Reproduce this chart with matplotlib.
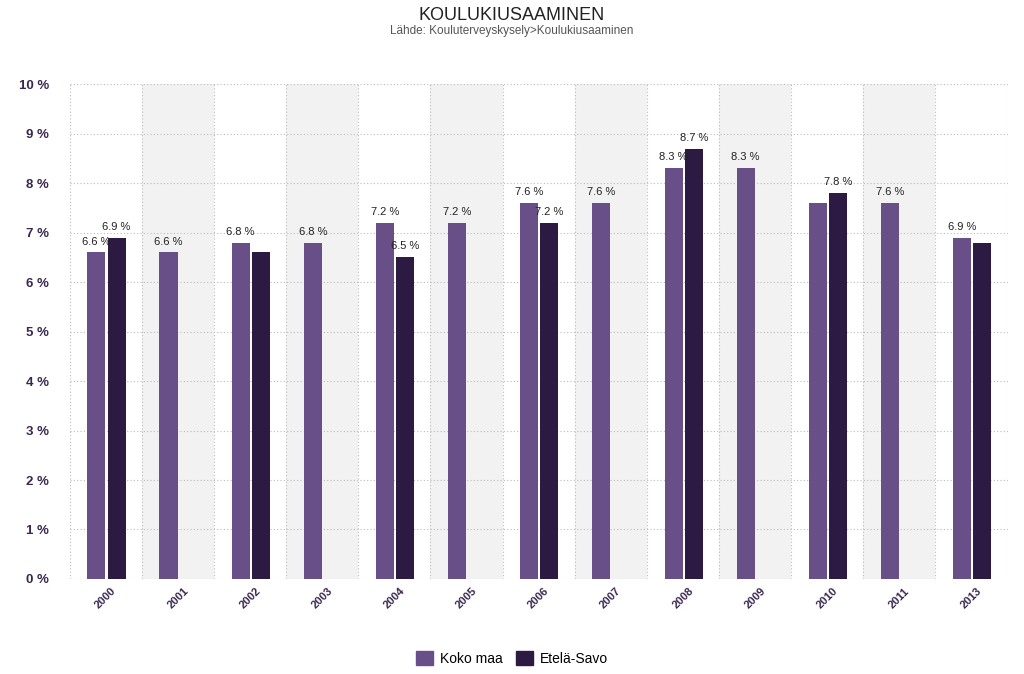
import numpy as np
import matplotlib
matplotlib.use("Agg")
from matplotlib import pyplot as plt
from matplotlib.patches import Patch
from matplotlib.transforms import ScaledTranslation

years = ["2000", "2001", "2002", "2003", "2004", "2005", "2006",
         "2007", "2008", "2009", "2010", "2011", "2013"]
koko_maa = [6.6, 6.6, 6.8, 6.8, 7.2, 7.2, 7.6, 7.6, 8.3, 8.3, 7.6, 7.6, 6.9]
etela_savo = [6.9, None, 6.6, None, 6.5, None, 7.2, None, 8.7, None, 7.8, None, 6.8]
# which value labels are shown in the original
koko_maa_labels = [True, True, True, True, True, True, True, True, True, True, False, True, True]
etela_savo_labels = [True, False, False, False, True, False, True, False, True, False, True, False, False]

c_koko = "#684f87"
c_savo = "#2d1a43"
txt = "#3a2650"

plt.rcParams["font.family"] = ["Liberation Sans", "DejaVu Sans"]

fig = plt.figure(figsize=(10.24, 6.74), dpi=100)
ax = fig.add_axes([0.068, 0.141, 0.916, 0.734])

x = np.arange(len(years))
w = 0.25

# alternating background bands
for i in x:
    if i % 2 == 1:
        ax.axvspan(i - 0.5, i + 0.5, color="#f2f2f2", zorder=0, lw=0)

for i, (k, s) in enumerate(zip(koko_maa, etela_savo)):
    ax.bar(i - 0.13, k, w, color=c_koko, zorder=3)
    if koko_maa_labels[i]:
        ax.text(i - 0.13, k + 0.12, f"{k} %", ha="center", va="bottom", fontsize=8, color="#222222", zorder=4)
    if s is not None:
        ax.bar(i + 0.15, s, w, color=c_savo, zorder=3)
        if etela_savo_labels[i]:
            ax.text(i + 0.15, s + 0.12, f"{s} %", ha="center", va="bottom", fontsize=8, color="#222222", zorder=4)

ax.set_xlim(-0.5, len(years) - 0.5)
ax.set_ylim(0, 10)
ax.set_yticks(range(0, 11))
ax.set_yticklabels([f"{v} %" for v in range(0, 11)], fontsize=9.5, fontweight="bold", color=txt)
ax.set_xticks(x)
ax.set_xticklabels(years, rotation=45, ha="center", va="top",
                   fontsize=8, fontweight="bold", color=txt)
off = ScaledTranslation(5 / 100, 0, fig.dpi_scale_trans)
for lab in ax.get_xticklabels():
    lab.set_transform(lab.get_transform() + off)
ax.tick_params(length=0, pad=5)
ax.tick_params(axis="y", pad=15)

for v in range(0, 11):
    ax.axhline(v, color="#bbbbbb", ls=(0, (1, 2)), lw=0.8, zorder=1)
for b in np.arange(-0.5, len(years), 1):
    ax.axvline(b, color="#bbbbbb", ls=(0, (1, 2)), lw=0.8, zorder=1)
for sp in ax.spines.values():
    sp.set_visible(False)

fig.text(0.5, 0.977, "KOULUKIUSAAMINEN", ha="center", va="center", fontsize=13, color="#222222")
fig.text(0.5, 0.954, "Lähde: Kouluterveyskysely>Koulukiusaaminen", ha="center", va="center", fontsize=8.5, color="#555555")

handles = [Patch(color=c_koko, label="Koko maa"), Patch(color=c_savo, label="Etelä-Savo")]
fig.legend(handles=handles, loc="center", bbox_to_anchor=(0.5, 0.023), ncol=2, frameon=False,
           fontsize=10, handlelength=1.2, handleheight=1.2, columnspacing=1.0, handletextpad=0.5)

fig.savefig("out.png", dpi=100)
